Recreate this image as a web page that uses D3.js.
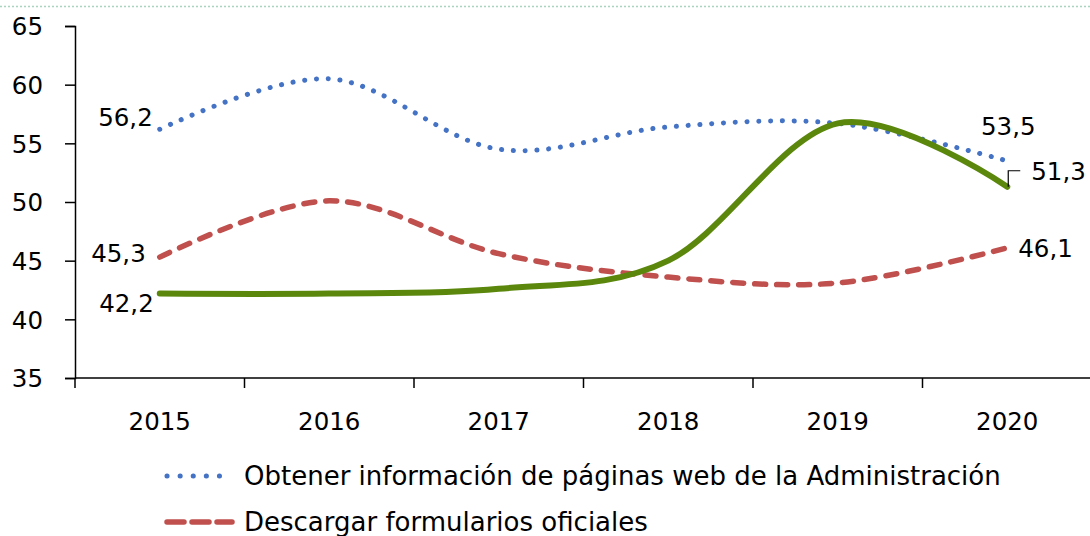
<!DOCTYPE html>
<html>
<head>
<meta charset="utf-8">
<script src="https://cdn.jsdelivr.net/npm/d3@7"></script>
<style>
  html, body { margin: 0; padding: 0; background: #ffffff; }
  svg { display: block; font-family: "DejaVu Sans", sans-serif; }
</style>
</head>
<body>
<svg id="chart" width="1090" height="536"></svg>
<script>
// Years on the category axis
const years = ["2015", "2016", "2017", "2018", "2019", "2020"];
// Percentages per series
const webInfo = [56.2, 60.5, 54.5, 56.4, 56.7, 53.5];
const downloadForms = [45.3, 50.1, 45.6, 43.6, 43.1, 46.1];
const sendForms = [42.2, 42.2, 42.6, 45.0, 56.7, 51.3];
// Value axis ticks
const yTicks = [35, 40, 45, 50, 55, 60, 65];
// Legend entries that fit on the page
const legendNames = [
  "Obtener información de páginas web de la Administración",
  "Descargar formularios oficiales"
];

const fmt = v => String(v.toFixed(1)).replace(".", ",");
const numSize = 24.5;

const svg = d3.select("#chart");

// thin dotted frame edge along the top
svg.append("line")
  .attr("x1", 0).attr("x2", 1090).attr("y1", 6.5).attr("y2", 6.5)
  .attr("stroke", "#a9d4c0").attr("stroke-width", 1.5)
  .attr("stroke-dasharray", "2 2");

const x = d3.scaleBand().domain(years).range([75, 1092]).padding(0);
const y = d3.scaleLinear().domain([35, 65]).range([378, 26]);
const cx = d => x(d) + x.bandwidth() / 2;

// y axis
const yAxis = svg.append("g").attr("transform", "translate(75,0)")
  .call(d3.axisLeft(y).tickValues(yTicks).tickSize(10).tickPadding(22).tickFormat(d3.format("d")));
yAxis.select(".domain").attr("stroke", "#000").attr("stroke-width", 1.5);
yAxis.selectAll(".tick line").attr("stroke", "#000").attr("stroke-width", 1.5);
yAxis.selectAll(".tick text").attr("fill", "#000").attr("font-size", numSize)
  .attr("font-family", "DejaVu Sans").attr("dy", "0.36em");

// x axis: ticks on category boundaries, labels at band centres
const xAxisG = svg.append("g").attr("transform", "translate(0,378)");
xAxisG.append("line").attr("x1", 75).attr("x2", 1090).attr("y1", 0).attr("y2", 0)
  .attr("stroke", "#000").attr("stroke-width", 1.5);
xAxisG.selectAll("line.tk").data(years).join("line").attr("class", "tk")
  .attr("x1", d => x(d)).attr("x2", d => x(d)).attr("y1", 0).attr("y2", 10)
  .attr("stroke", "#000").attr("stroke-width", 1.5);
xAxisG.selectAll("text").data(years).join("text")
  .attr("x", d => cx(d)).attr("y", 52)
  .attr("text-anchor", "middle").attr("font-size", numSize).attr("fill", "#000")
  .text(d => d);

const line = d3.line().x((d, i) => cx(years[i])).y(d => y(d)).curve(d3.curveCardinal.tension(0));

const series = [
  { values: webInfo, color: "#4472C4", dash: "0.1 11.7", width: 5, cap: "round" },
  { values: downloadForms, color: "#C0504D", dash: "11 11", width: 5.5, cap: "round" },
  { values: sendForms, color: "#5A870C", dash: null, width: 6, cap: "round" }
];

svg.selectAll("path.series").data(series).join("path")
  .attr("class", "series")
  .attr("d", s => line(s.values))
  .attr("fill", "none")
  .attr("stroke", s => s.color)
  .attr("stroke-width", s => s.width)
  .attr("stroke-linecap", s => s.cap)
  .attr("stroke-dasharray", s => s.dash);

// data labels on the first and last points
const labelG = svg.append("g").attr("font-size", numSize).attr("fill", "#000");
const first = years[0], last = years[years.length - 1];
const lastIdx = years.length - 1;
labelG.append("text").attr("x", cx(first) - 7).attr("y", y(webInfo[0]) - 3)
  .attr("text-anchor", "end").text(fmt(webInfo[0]));
labelG.append("text").attr("x", cx(first) - 14).attr("y", y(downloadForms[0]) + 5)
  .attr("text-anchor", "end").text(fmt(downloadForms[0]));
labelG.append("text").attr("x", cx(first) - 6).attr("y", y(sendForms[0]) + 18)
  .attr("text-anchor", "end").text(fmt(sendForms[0]));
labelG.append("text").attr("x", cx(last) + 1).attr("y", y(webInfo[lastIdx]) - 26)
  .attr("text-anchor", "middle").text(fmt(webInfo[lastIdx]));
labelG.append("text").attr("x", cx(last) + 24).attr("y", y(sendForms[lastIdx]) - 7)
  .attr("text-anchor", "start").text(fmt(sendForms[lastIdx]));
labelG.append("text").attr("x", cx(last) + 11).attr("y", y(downloadForms[lastIdx]) + 9)
  .attr("text-anchor", "start").text(fmt(downloadForms[lastIdx]));

// leader from the last green point to its label
const lx = cx(last) + 1, ly = y(sendForms[lastIdx]);
svg.append("path")
  .attr("d", `M${lx},${ly} V${ly - 16} H${lx + 12}`)
  .attr("fill", "none").attr("stroke", "#000").attr("stroke-width", 1.2);

// legend
const legend = svg.append("g");
legendNames.forEach((name, i) => {
  const s = series[i];
  const ly2 = 476 + i * 46;
  legend.append("line")
    .attr("x1", 167).attr("x2", 232).attr("y1", ly2).attr("y2", ly2)
    .attr("stroke", s.color).attr("stroke-width", s.width)
    .attr("stroke-linecap", s.cap).attr("stroke-dasharray", i === 0 ? "0.1 13" : "17 8");
  legend.append("text")
    .attr("x", 244).attr("y", ly2).attr("dy", "0.36em")
    .attr("font-size", 26).attr("fill", "#000").text(name);
});
</script>
</body>
</html>
